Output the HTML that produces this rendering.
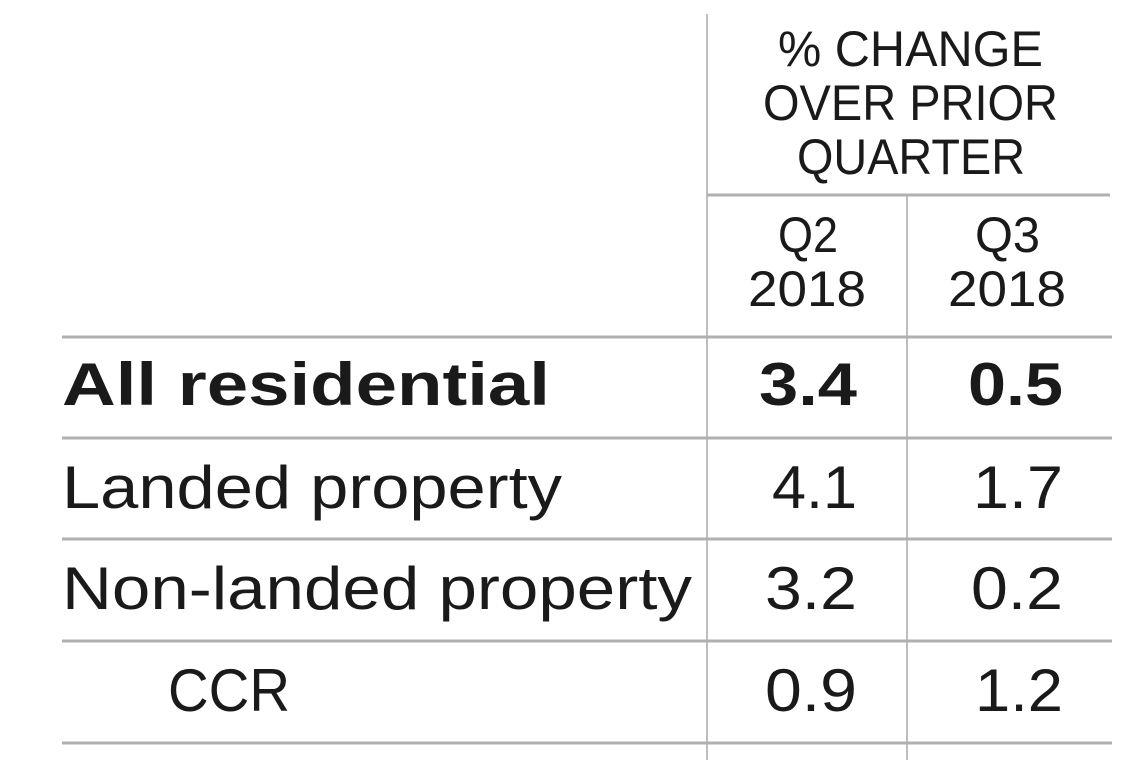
<!DOCTYPE html>
<html><head><meta charset="utf-8"><style>
html,body{margin:0;padding:0;background:#fff;width:1140px;height:760px;overflow:hidden}
svg text{font-family:"Liberation Sans",sans-serif;fill:#1a1a1a}
</style></head><body>
<svg width="1140" height="760">
<g stroke="#a8a8a8" stroke-width="1.5">
<line x1="707" y1="14" x2="707" y2="760"/>
<line x1="907" y1="196" x2="907" y2="760"/>
</g>
<g stroke="#b0b0b0" stroke-width="3">
<line x1="707" y1="195" x2="1110" y2="195"/>
<line x1="62" y1="337" x2="1112" y2="337"/>
<line x1="62" y1="438" x2="1112" y2="438"/>
<line x1="62" y1="539" x2="1112" y2="539"/>
<line x1="62" y1="641" x2="1112" y2="641"/>
<line x1="62" y1="743" x2="1112" y2="743"/>
</g>
<g font-size="50">
<text x="778" y="66" textLength="265" lengthAdjust="spacingAndGlyphs">% CHANGE</text>
<text x="763" y="120" textLength="295" lengthAdjust="spacingAndGlyphs">OVER PRIOR</text>
<text x="797" y="174" textLength="228" lengthAdjust="spacingAndGlyphs">QUARTER</text>
<text x="778" y="252" textLength="60" lengthAdjust="spacingAndGlyphs">Q2</text>
<text x="748" y="306" textLength="118" lengthAdjust="spacingAndGlyphs">2018</text>
<text x="975" y="252" textLength="65" lengthAdjust="spacingAndGlyphs">Q3</text>
<text x="948" y="306" textLength="118" lengthAdjust="spacingAndGlyphs">2018</text>
</g>
<g font-size="60">
<text x="62" y="405" font-weight="bold" textLength="488" lengthAdjust="spacingAndGlyphs">All residential</text>
<text x="857" y="405" font-weight="bold" text-anchor="end" textLength="98" lengthAdjust="spacingAndGlyphs">3.4</text>
<text x="1063" y="405" font-weight="bold" text-anchor="end" textLength="95" lengthAdjust="spacingAndGlyphs">0.5</text>
<text x="62" y="508" textLength="500" lengthAdjust="spacingAndGlyphs">Landed property</text>
<text x="857" y="508" text-anchor="end" textLength="85" lengthAdjust="spacingAndGlyphs">4.1</text>
<text x="1063" y="508" text-anchor="end" textLength="90" lengthAdjust="spacingAndGlyphs">1.7</text>
<text x="62" y="609" textLength="630" lengthAdjust="spacingAndGlyphs">Non-landed property</text>
<text x="857" y="609" text-anchor="end" textLength="92" lengthAdjust="spacingAndGlyphs">3.2</text>
<text x="1063" y="609" text-anchor="end" textLength="92" lengthAdjust="spacingAndGlyphs">0.2</text>
<text x="168" y="711" textLength="122" lengthAdjust="spacingAndGlyphs">CCR</text>
<text x="857" y="711" text-anchor="end" textLength="92" lengthAdjust="spacingAndGlyphs">0.9</text>
<text x="1063" y="711" text-anchor="end" textLength="88" lengthAdjust="spacingAndGlyphs">1.2</text>
</g>
</svg>
</body></html>
